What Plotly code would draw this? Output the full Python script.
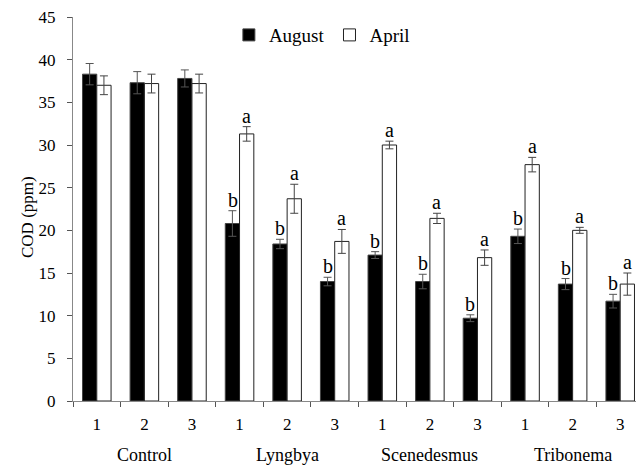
import plotly.graph_objects as go

groups = ["Control", "Lyngbya", "Scenedesmus", "Tribonema"]
sub_labels = ["1", "2", "3"]
august = [38.3, 37.3, 37.8, 20.8, 18.4, 14.0, 17.1, 14.0, 9.7, 19.3, 13.7, 11.7]
august_err = [1.25, 1.3, 1.0, 1.5, 0.55, 0.5, 0.4, 0.85, 0.4, 0.85, 0.65, 0.8]
april = [37.0, 37.2, 37.2, 31.3, 23.7, 18.7, 30.0, 21.4, 16.8, 27.7, 20.0, 13.7]
april_err = [1.1, 1.1, 1.1, 0.85, 1.7, 1.4, 0.45, 0.6, 0.9, 0.85, 0.35, 1.3]
august_letters = ["", "", "", "b", "b", "b", "b", "b", "b", "b", "b", "b"]
april_letters = ["", "", "", "a", "a", "a", "a", "a", "a", "a", "a", "a"]

n = len(august)
xs = list(range(n))
tick_text = [sub_labels[i % 3] for i in xs]
FONT = "Times New Roman, Liberation Serif, serif"

fig = go.Figure()
fig.add_trace(go.Bar(
    x=xs, y=august, name="August",
    marker=dict(color="black", line=dict(color="#444444", width=1)),
    error_y=dict(type="data", array=august_err, color="#555555", thickness=1, width=4),
))
fig.add_trace(go.Bar(
    x=xs, y=april, name="April",
    marker=dict(color="white", line=dict(color="#222222", width=1)),
    error_y=dict(type="data", array=april_err, color="#444444", thickness=1, width=4),
))
# invisible trace on overlay axis for boundary ticks
fig.add_trace(go.Scatter(x=[-0.5, n - 0.5], y=[0, 0], xaxis="x2", mode="markers",
                         marker=dict(opacity=0), showlegend=False, hoverinfo="skip"))

annotations = []
for i in xs:
    if august_letters[i]:
        annotations.append(dict(x=i, y=august[i] + august_err[i], xref="x", yref="y",
                                text=august_letters[i], showarrow=False, xshift=-7,
                                yanchor="bottom", yshift=-2,
                                font=dict(family=FONT, size=20, color="black")))
    if april_letters[i]:
        annotations.append(dict(x=i, y=april[i] + april_err[i], xref="x", yref="y",
                                text=april_letters[i], showarrow=False, xshift=7,
                                yanchor="bottom", yshift=-2,
                                font=dict(family=FONT, size=20, color="black")))
for gi, g in enumerate(groups):
    annotations.append(dict(x=gi * 3 + 1, y=-0.14, xref="x", yref="paper", text=g,
                            showarrow=False, yanchor="middle",
                            font=dict(family=FONT, size=18, color="black")))
# y-axis title
annotations.append(dict(x=-0.08, y=0.48, xref="paper", yref="paper", text="COD (ppm)",
                        textangle=-90, showarrow=False, xanchor="center", yanchor="middle",
                        font=dict(family=FONT, size=17, color="black")))

fig.update_layout(
    width=636, height=459,
    margin=dict(l=65, r=0, t=7, b=66),
    paper_bgcolor="white", plot_bgcolor="white",
    barmode="group", bargap=0.4, bargroupgap=0,
    font=dict(family=FONT, size=17, color="black"),
    showlegend=True,
    legend=dict(orientation="h", x=0.273, y=0.953, xanchor="left", yanchor="middle",
                font=dict(family=FONT, size=19, color="black"), itemwidth=30,
                bgcolor="rgba(0,0,0,0)", traceorder="normal"),
    annotations=annotations,
    xaxis=dict(range=[-0.5, n - 0.5], tickvals=xs, ticktext=tick_text,
               showline=True, linecolor="#888888", linewidth=1,
               ticks="", showgrid=False, zeroline=False, ticklabelstandoff=8,
               tickfont=dict(family=FONT, size=17, color="black")),
    xaxis2=dict(range=[-0.5, n - 0.5], overlaying="x", side="bottom",
                tickvals=[v - 0.5 for v in range(n + 1)], showticklabels=False,
                ticks="outside", ticklen=5, tickcolor="#555555",
                showline=False, showgrid=False, zeroline=False),
    yaxis=dict(range=[0, 45], dtick=5, showline=True, linecolor="#888888", linewidth=1,
               ticks="outside", ticklen=5, tickcolor="#555555", showgrid=False,
               zeroline=False, ticklabelstandoff=8, ticklabeloverflow="allow",
               tickfont=dict(family=FONT, size=17, color="black")),
)

fig.write_html("out.html")
